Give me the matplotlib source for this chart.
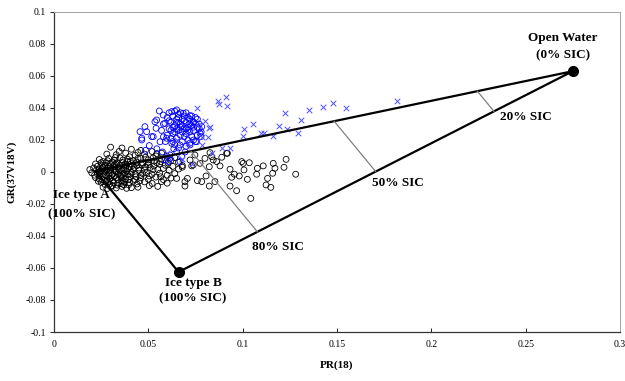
"""Mixing-triangle scatter: PR(18) vs GR(37V18V) with SIC isolines."""

import matplotlib
matplotlib.use("Agg")
import matplotlib.pyplot as plt
import numpy as np

plt.rcParams.update({
    "font.family": ["Liberation Serif", "DejaVu Serif"],
    "font.size": 7,
})

# tie points (PR, GR)
OPEN_WATER = (0.275, 0.063)
ICE_A = (0.022, 0.0005)
ICE_B = (0.066, -0.0625)
SIC_LEVELS = [0.2, 0.5, 0.8]  # fraction of ice along OW -> ice edges
SIC_LABELS = ["20% SIC", "50% SIC", "80% SIC"]
SIC_LABEL_POS = [(0.2502, 0.0344), (0.1823, -0.0069), (0.1187, -0.0469)]

# black circles (one ice regime)
black_pts = [
    (0.030, 0.0155), (0.036, 0.0150), (0.041, 0.0142), (0.046, 0.0135), (0.052, 0.0128), (0.057, 0.0118),
    (0.028, 0.0112), (0.033, 0.0108), (0.038, 0.0118), (0.043, 0.0105), (0.048, 0.0112), (0.054, 0.0100),
    (0.060, 0.0098), (0.064, 0.0090),
    (0.024, 0.0078), (0.029, 0.0085), (0.032, 0.0072), (0.035, 0.0088), (0.039, 0.0080), (0.042, 0.0070),
    (0.046, 0.0084), (0.050, 0.0076), (0.053, 0.0068), (0.057, 0.0080), (0.062, 0.0072), (0.066, 0.0060),
    (0.022, 0.0050), (0.025, 0.0058), (0.027, 0.0042), (0.030, 0.0055), (0.033, 0.0048), (0.036, 0.0060),
    (0.038, 0.0045), (0.041, 0.0052), (0.044, 0.0040), (0.047, 0.0058), (0.050, 0.0046), (0.053, 0.0038),
    (0.056, 0.0050), (0.059, 0.0042), (0.063, 0.0035), (0.068, 0.0040),
    (0.019, 0.0015), (0.021, 0.0025), (0.024, 0.0018), (0.026, 0.0030), (0.028, 0.0012), (0.030, 0.0026),
    (0.032, 0.0018), (0.034, 0.0030), (0.036, 0.0010), (0.038, 0.0022), (0.040, 0.0032), (0.042, 0.0015),
    (0.045, 0.0025), (0.048, 0.0012), (0.051, 0.0028), (0.055, 0.0015), (0.058, 0.0022), (0.061, 0.0010),
    (0.066, 0.0018),
    (0.020, -0.0005), (0.023, -0.0012), (0.025, 0.0002), (0.027, -0.0018), (0.029, -0.0006), (0.031, -0.0015),
    (0.033, 0.0000), (0.035, -0.0020), (0.037, -0.0008), (0.039, -0.0016), (0.041, -0.0002), (0.043, -0.0012),
    (0.046, -0.0022), (0.049, -0.0005), (0.052, -0.0015), (0.056, -0.0008), (0.060, -0.0020), (0.064, -0.0010),
    (0.022, -0.0035), (0.024, -0.0045), (0.026, -0.0030), (0.028, -0.0050), (0.030, -0.0038), (0.032, -0.0028),
    (0.034, -0.0048), (0.036, -0.0035), (0.038, -0.0042), (0.040, -0.0030), (0.043, -0.0048), (0.046, -0.0036),
    (0.050, -0.0045), (0.054, -0.0032), (0.058, -0.0048), (0.062, -0.0038),
    (0.025, -0.0065), (0.027, -0.0078), (0.029, -0.0062), (0.031, -0.0085), (0.034, -0.0070), (0.037, -0.0080),
    (0.040, -0.0066), (0.044, -0.0075), (0.048, -0.0062), (0.052, -0.0072), (0.057, -0.0060),
    (0.026, -0.0095), (0.028, -0.0105), (0.030, -0.0092), (0.033, -0.0100), (0.036, -0.0090), (0.041, -0.0098),
    (0.027, 0.0005), (0.029, 0.0035), (0.031, 0.0062), (0.033, -0.0035), (0.035, 0.0040), (0.037, 0.0015),
    (0.039, 0.0065), (0.031, -0.0055), (0.034, 0.0022), (0.036, -0.0058), (0.038, 0.0035), (0.026, 0.0065),
    (0.028, -0.0025), (0.030, 0.0010), (0.032, 0.0045), (0.034, -0.0012), (0.040, 0.0095), (0.044, 0.0062),
    (0.047, -0.0010), (0.024, -0.0022), (0.023, 0.0035), (0.042, -0.0058), (0.045, 0.0010), (0.050, 0.0060),
    (0.055, -0.0090), (0.060, -0.0070), (0.065, -0.0040), (0.068, 0.0030),
    # extra density in the core of the cluster
    (0.0245, 0.0008), (0.0265, -0.0008), (0.0285, 0.0022), (0.0305, -0.0022), (0.0325, 0.0008), (0.0345, 0.0012),
    (0.0365, -0.0015), (0.0385, 0.0005), (0.0405, -0.0012), (0.0425, 0.0028), (0.0255, 0.0040), (0.0275, 0.0058),
    (0.0295, -0.0042), (0.0315, 0.0034), (0.0335, 0.0058), (0.0355, -0.0028), (0.0375, 0.0048), (0.0395, -0.0048),
    (0.0415, 0.0040), (0.0435, -0.0030), (0.0235, -0.0058), (0.0255, -0.0048), (0.0275, -0.0060), (0.0295, -0.0075),
    (0.0315, -0.0068), (0.0335, -0.0082), (0.0355, -0.0072), (0.0375, -0.0062), (0.0395, -0.0080), (0.0455, -0.0055),
    (0.0465, 0.0045), (0.0485, 0.0032), (0.0505, -0.0025), (0.0525, 0.0015), (0.0545, 0.0058), (0.0565, -0.0030),
    (0.0255, 0.0020), (0.0285, 0.0070), (0.0325, 0.0090), (0.0365, 0.0075), (0.0405, 0.0068), (0.0445, 0.0085),
    (0.0485, 0.0092), (0.0525, 0.0088), (0.0565, 0.0065), (0.0605, 0.0055), (0.0215, -0.0020), (0.0225, 0.0012),
    (0.0385, -0.0102), (0.0445, -0.0095), (0.0505, -0.0085), (0.0345, 0.0128), (0.0445, 0.0122), (0.0545, 0.0115),
    # scattered tail toward larger PR
    (0.0800, 0.0085), (0.0827, 0.0121), (0.0844, 0.0075), (0.0889, 0.0092), (0.0919, 0.0117), (0.0880, 0.0038),
    (0.0823, 0.0033), (0.0774, 0.0054), (0.0933, 0.0017), (0.0956, -0.0014), (0.0982, -0.0025), (0.0942, -0.0033),
    (0.1003, 0.0054), (0.1007, 0.0013), (0.1035, 0.0058), (0.1025, -0.0046), (0.1078, 0.0023), (0.1074, -0.0014),
    (0.1109, 0.0038), (0.1132, -0.0040), (0.1159, -0.0008), (0.1162, 0.0054), (0.1171, 0.0023), (0.1219, 0.0029),
    (0.1230, 0.0079), (0.1281, -0.0014), (0.1124, -0.0081), (0.1149, -0.0096), (0.0933, -0.0088), (0.0968, -0.0117),
    (0.1043, -0.0165), (0.0760, -0.0054), (0.0783, -0.0060), (0.0806, -0.0025), (0.0823, -0.0088), (0.0853, -0.0060),
    (0.0694, -0.0060), (0.0694, -0.0088), (0.0707, -0.0040), (0.0730, 0.0038), (0.0747, 0.0106), (0.0721, 0.0075),
    (0.0738, 0.0044), (0.0836, 0.0096), (0.0862, 0.0065), (0.0915, 0.0117), (0.0995, 0.0065),
]

# blue circles (second regime)
blue_circ = [
    (0.0558, 0.0381), (0.0544, 0.0325), (0.0541, 0.0273), (0.0526, 0.0221), (0.0579, 0.0356), (0.0588, 0.0304),
    (0.0624, 0.0377), (0.0650, 0.0388), (0.0685, 0.0367), (0.0721, 0.0352), (0.0738, 0.0314), (0.0783, 0.0283),
    (0.0779, 0.0221), (0.0756, 0.0189), (0.0721, 0.0169), (0.0668, 0.0169), (0.0624, 0.0179), (0.0597, 0.0211),
    (0.0562, 0.0189), (0.0491, 0.0252), (0.0465, 0.0211), (0.0650, 0.0127), (0.0615, 0.0106), (0.0588, 0.0075),
    (0.0677, 0.0096), (0.0456, 0.0252), (0.0465, 0.0200), (0.0482, 0.0283), (0.0518, 0.0221), (0.0535, 0.0314),
    (0.0615, 0.0085), (0.0606, 0.0065), (0.0668, 0.0065), (0.0774, 0.0242),
    (0.058, 0.030), (0.060, 0.034), (0.061, 0.027), (0.062, 0.031), (0.063, 0.024), (0.063, 0.035),
    (0.064, 0.029), (0.065, 0.033), (0.065, 0.021), (0.066, 0.026), (0.066, 0.036), (0.067, 0.030),
    (0.067, 0.023), (0.068, 0.033), (0.068, 0.019), (0.069, 0.027), (0.069, 0.035), (0.070, 0.031),
    (0.070, 0.024), (0.071, 0.028), (0.071, 0.020), (0.072, 0.033), (0.072, 0.025), (0.073, 0.029),
    (0.073, 0.022), (0.074, 0.031), (0.074, 0.026), (0.075, 0.034), (0.075, 0.019), (0.076, 0.028),
    (0.076, 0.023), (0.077, 0.030), (0.078, 0.025), (0.062, 0.021), (0.064, 0.017), (0.066, 0.015),
    (0.060, 0.023), (0.059, 0.019), (0.061, 0.037), (0.064, 0.038), (0.067, 0.037), (0.070, 0.037),
    (0.069, 0.022), (0.068, 0.025), (0.067, 0.028), (0.066, 0.031), (0.065, 0.027), (0.064, 0.025),
    (0.063, 0.028), (0.062, 0.026), (0.071, 0.026), (0.072, 0.030), (0.073, 0.035), (0.070, 0.027),
    (0.068, 0.029), (0.066, 0.034), (0.065, 0.031), (0.069, 0.032), (0.071, 0.034), (0.074, 0.028),
    (0.075, 0.030), (0.076, 0.033), (0.077, 0.027), (0.072, 0.018), (0.070, 0.016), (0.074, 0.020),
    (0.061, 0.032), (0.057, 0.026), (0.058, 0.022), (0.063, 0.019),
    (0.0505, 0.0165), (0.0545, 0.0145), (0.0485, 0.0135), (0.0575, 0.0125), (0.0635, 0.0145), (0.0695, 0.0125),
]

# blue crosses
blue_x = [
    (0.0756, 0.0398), (0.0871, 0.0444), (0.0912, 0.0471), (0.0876, 0.0423), (0.0919, 0.0414), (0.0800, 0.0319),
    (0.0822, 0.0277), (0.1009, 0.0269), (0.1003, 0.0227), (0.1056, 0.0298), (0.1096, 0.0242), (0.1113, 0.0242),
    (0.1159, 0.0227), (0.1194, 0.0289), (0.1224, 0.0367), (0.1237, 0.0269), (0.1295, 0.0242), (0.1308, 0.0325),
    (0.1353, 0.0388), (0.1427, 0.0408), (0.1480, 0.0429), (0.1548, 0.0402), (0.1816, 0.0444), (0.0783, 0.0221),
    (0.0818, 0.0221), (0.0783, 0.0169), (0.0889, 0.0152), (0.0933, 0.0148), (0.0836, 0.0117), (0.0756, 0.0294),
    (0.0827, 0.0283), (0.065, 0.020), (0.071, 0.018), (0.060, 0.012), (0.068, 0.008), (0.073, 0.005),
]


def mix(p, q, f):
    return (p[0] + f * (q[0] - p[0]), p[1] + f * (q[1] - p[1]))


def main():
    fig = plt.figure(figsize=(6.25, 3.81), dpi=100)
    ax = fig.add_axes([0.0864, 0.1286, 0.9056, 0.84])

    bx, by = np.array(black_pts).T
    ax.scatter(bx, by, s=18, facecolors="none", edgecolors="black", linewidths=0.6, zorder=2)
    cx, cy = np.array(blue_circ).T
    ax.scatter(cx, cy, s=18, facecolors="none", edgecolors="#0000ff", linewidths=0.6, zorder=3)
    xx, xy = np.array(blue_x).T
    ax.scatter(xx, xy, s=16, marker="x", color="#4f4fff", linewidths=0.7, zorder=3)

    # triangle edges
    tri = [ICE_A, OPEN_WATER, ICE_B, ICE_A]
    tx, ty = zip(*tri)
    ax.plot(tx, ty, color="black", lw=1.6, zorder=4)
    ax.plot([OPEN_WATER[0], ICE_B[0]], [OPEN_WATER[1], ICE_B[1]], ls="none",
            marker="o", ms=7, color="black", zorder=5)

    # SIC isolines
    for f, lab, pos in zip(SIC_LEVELS, SIC_LABELS, SIC_LABEL_POS):
        p1 = mix(OPEN_WATER, ICE_A, f)
        p2 = mix(OPEN_WATER, ICE_B, f)
        ax.plot([p1[0], p2[0]], [p1[1], p2[1]], color="#808080", lw=0.9, zorder=4)
        ax.text(pos[0], pos[1], lab, ha="center", va="center", fontsize=9.5, fontweight="bold", zorder=6)

    kw = dict(ha="center", va="center", fontsize=9.5, fontweight="bold", zorder=6)
    ax.text(0.2698, 0.0838, "Open Water", **kw)
    ax.text(0.2698, 0.0731, "(0% SIC)", **kw)
    ax.text(0.0148, -0.0144, "Ice type A", **kw)
    ax.text(0.0148, -0.0263, "(100% SIC)", **kw)
    ax.text(0.0737, -0.0694, "Ice type B", **kw)
    ax.text(0.0737, -0.0788, "(100% SIC)", **kw)

    ax.set_xlim(0, 0.3)
    ax.set_ylim(-0.1, 0.1)
    ax.set_xticks([0, 0.05, 0.1, 0.15, 0.2, 0.25, 0.3])
    ax.set_xticklabels(["0", "0.05", "0.1", "0.15", "0.2", "0.25", "0.3"])
    ax.set_yticks(np.round(np.arange(-0.1, 0.1001, 0.02), 2))
    ax.set_yticklabels(["-0.1", "-0.08", "-0.06", "-0.04", "-0.02", "0",
                        "0.02", "0.04", "0.06", "0.08", "0.1"])
    ax.tick_params(axis="y", direction="out", length=3, width=0.6, pad=3)
    ax.tick_params(axis="x", direction="in", length=3, width=0.6, pad=6)
    ax.set_xlabel("PR(18)", fontsize=8, fontweight="bold", labelpad=8)
    ax.set_ylabel("GR(37V18V)", fontsize=8, fontweight="bold", labelpad=6)

    for s in ("left", "bottom"):
        ax.spines[s].set_color("#333333")
        ax.spines[s].set_linewidth(0.9)
    for s in ("top", "right"):
        ax.spines[s].set_color("#aaaaaa")
        ax.spines[s].set_linewidth(0.8)

    fig.savefig("out.png", dpi=100)
    plt.close(fig)


if __name__ == "__main__":
    main()
